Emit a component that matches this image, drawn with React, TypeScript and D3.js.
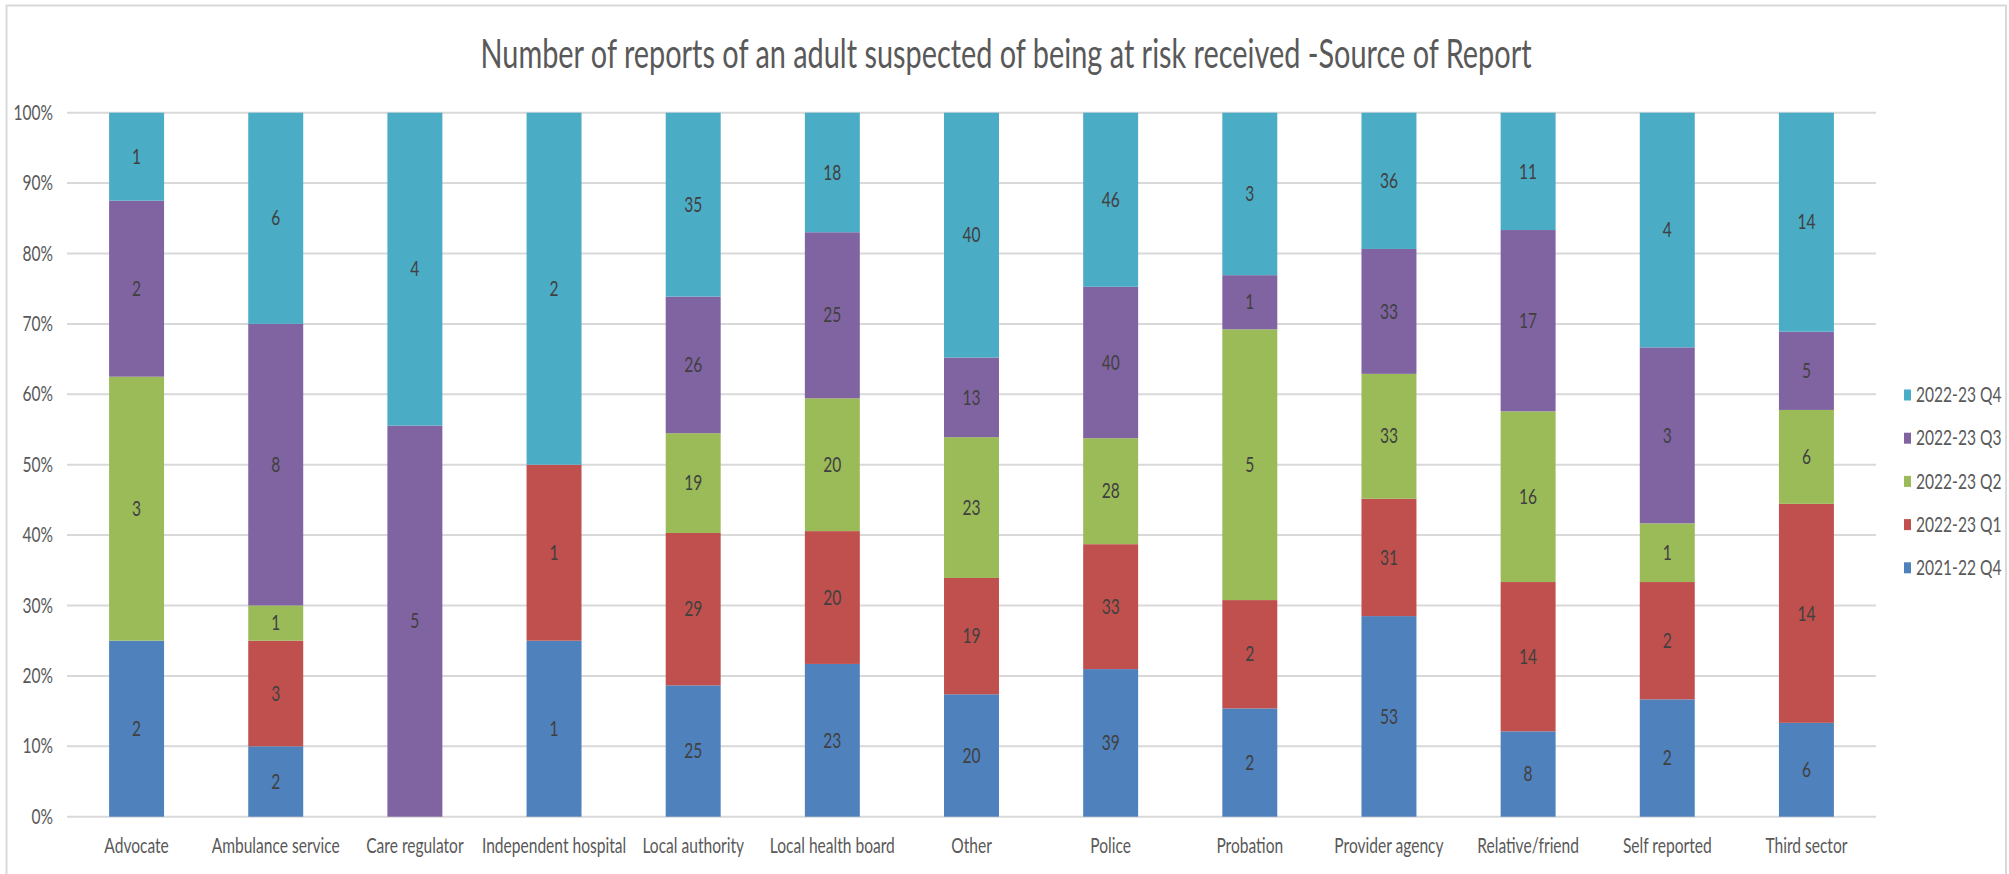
import React from "react";
import * as d3 from "d3";

const categories = [
  "Advocate",
  "Ambulance service",
  "Care regulator",
  "Independent hospital",
  "Local authority",
  "Local health board",
  "Other",
  "Police",
  "Probation",
  "Provider agency",
  "Relative/friend",
  "Self reported",
  "Third sector",
];

const seriesNames = ["2021-22 Q4", "2022-23 Q1", "2022-23 Q2", "2022-23 Q3", "2022-23 Q4"];

const q4_2122 = [2, 2, 0, 1, 25, 23, 20, 39, 2, 53, 8, 2, 6];
const q1_2223 = [0, 3, 0, 1, 29, 20, 19, 33, 2, 31, 14, 2, 14];
const q2_2223 = [3, 1, 0, 0, 19, 20, 23, 28, 5, 33, 16, 1, 6];
const q3_2223 = [2, 8, 5, 0, 26, 25, 13, 40, 1, 33, 17, 3, 5];
const q4_2223 = [1, 6, 4, 2, 35, 18, 40, 46, 3, 36, 11, 4, 14];

const seriesValues = [q4_2122, q1_2223, q2_2223, q3_2223, q4_2223];
const seriesColors = ["#4F81BD", "#C0504D", "#9BBB59", "#8064A2", "#4BACC6"];

const yTicks = [0, 0.1, 0.2, 0.3, 0.4, 0.5, 0.6, 0.7, 0.8, 0.9, 1];

const title = "Number of reports of an adult suspected of being at risk received -Source of Report";

const FONT = "Lato, 'Liberation Sans', sans-serif";
const SX = 0.76;
const FS = 20.5;

function NText(props: {
  x: number;
  y: number;
  anchor?: "start" | "middle" | "end";
  size: number;
  fill: string;
  children: React.ReactNode;
}) {
  return (
    <text
      transform={`translate(${props.x},${props.y}) scale(${SX},1)`}
      dy="0.35em"
      textAnchor={props.anchor || "start"}
      fontSize={props.size}
      fill={props.fill}
    >
      {props.children}
    </text>
  );
}

export default function App() {
  const W = 2009;
  const H = 874;
  const x = d3
    .scaleBand<string>()
    .domain(categories)
    .range([67, 1876])
    .paddingInner(0.605)
    .paddingOuter(0.3025);
  const y = d3.scaleLinear().domain([0, 1]).range([816.7, 112.7]);

  const rows = categories.map((c, i) => {
    const obj: any = { cat: c };
    seriesNames.forEach((s, k) => (obj[s] = seriesValues[k][i]));
    return obj;
  });
  const stacked = d3.stack<any>().keys(seriesNames).offset(d3.stackOffsetExpand)(rows);

  return (
    <svg
      width={W}
      height={H}
      style={{ position: "absolute", left: 0, top: 0, background: "#fff" }}
      fontFamily={FONT}
    >
      <rect x={0} y={0} width={W} height={H} fill="#fff" />
      <rect x={6.5} y={5.5} width={1999.5} height={H + 10} fill="none" stroke="#D9D9D9" strokeWidth={2} />
      <text
        x={1006}
        y={68}
        textAnchor="middle"
        fontSize={41}
        fill="#595959"
        textLength={1051}
        lengthAdjust="spacingAndGlyphs"
      >
        {title}
      </text>
      {yTicks.map((t) => (
        <g key={t}>
          <line x1={67} x2={1876} y1={y(t)} y2={y(t)} stroke="#D9D9D9" strokeWidth={2} />
          <NText x={53} y={y(t)} anchor="end" size={FS} fill="#595959">
            {d3.format(".0%")(t)}
          </NText>
        </g>
      ))}
      {stacked.map((layer, k) => (
        <g key={layer.key}>
          {layer.map((d, i) => {
            const v = seriesValues[k][i];
            if (!v) return null;
            const y0 = y(d[0]);
            const y1 = y(d[1]);
            return (
              <g key={i}>
                <rect
                  x={x(categories[i])}
                  y={y1}
                  width={x.bandwidth()}
                  height={y0 - y1}
                  fill={seriesColors[k]}
                />
                <NText
                  x={(x(categories[i]) as number) + x.bandwidth() / 2}
                  y={(y0 + y1) / 2}
                  anchor="middle"
                  size={FS}
                  fill="#404040"
                >
                  {v}
                </NText>
              </g>
            );
          })}
        </g>
      ))}
      {categories.map((c) => (
        <NText
          key={c}
          x={(x(c) as number) + x.bandwidth() / 2}
          y={846}
          anchor="middle"
          size={FS}
          fill="#595959"
        >
          {c}
        </NText>
      ))}
      {seriesNames
        .slice()
        .reverse()
        .map((s, j) => {
          const k = seriesNames.length - 1 - j;
          const cy = 395 + j * 43.2;
          return (
            <g key={s}>
              <rect x={1904} y={cy - 5.5} width={7} height={11} fill={seriesColors[k]} />
              <NText x={1916} y={cy} size={FS} fill="#595959">
                {s}
              </NText>
            </g>
          );
        })}
    </svg>
  );
}
